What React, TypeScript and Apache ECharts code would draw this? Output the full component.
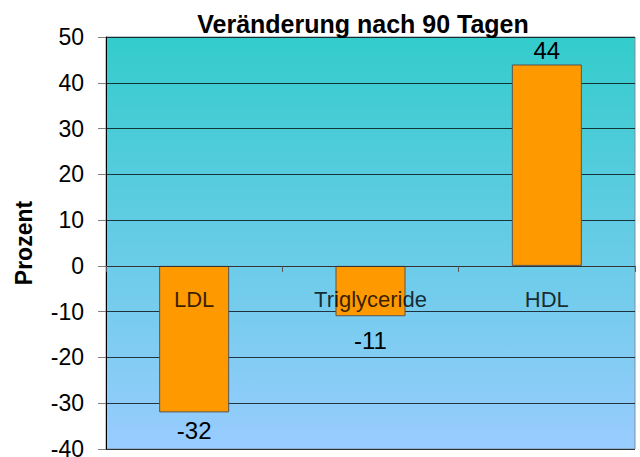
import React, { useEffect, useRef } from "react";
import * as echarts from "echarts";

const categories = ["LDL", "Triglyceride", "HDL"];
const values = [-32, -11, 44];
const yTicks = { min: -40, max: 50, interval: 10 };
const titleText = "Veränderung nach 90 Tagen";
const yAxisTitle = "Prozent";

const labelGaps = [6, 12, 2];

export default function App() {
  const ref = useRef<HTMLDivElement>(null);
  useEffect(() => {
    if (!ref.current) return;
    const chart = echarts.init(ref.current, undefined, { renderer: "svg" });
    const font = "'Liberation Sans', Arial, sans-serif";
    chart.setOption({
      animation: false,
      backgroundColor: "#ffffff",
      title: {
        text: titleText,
        left: 358,
        top: 6,
        textAlign: "center",
        textStyle: { fontFamily: font, fontWeight: "bold", fontSize: 25, color: "#000" },
      },
      grid: {
        left: 106,
        right: 5,
        top: 37,
        bottom: 8,
        outerBoundsMode: "none",
        containLabel: false,
        show: true,
        borderColor: "#7f8f9f",
        borderWidth: 1,
        backgroundColor: new echarts.graphic.LinearGradient(0, 0, 0, 1, [
          { offset: 0, color: "#33CCCC" },
          { offset: 1, color: "#99CCFF" },
        ]),
      },
      xAxis: {
        type: "category",
        data: categories,
        z: 5,
        axisLine: { onZero: true, lineStyle: { color: "#333", width: 1 } },
        axisTick: { show: true, length: 6, lineStyle: { color: "#555" } },
        axisLabel: { show: false },
        splitLine: { show: false },
      },
      yAxis: {
        type: "value",
        min: yTicks.min,
        max: yTicks.max,
        interval: yTicks.interval,
        name: yAxisTitle,
        nameLocation: "middle",
        nameGap: 71,
        nameTextStyle: { fontFamily: font, fontWeight: "bold", fontSize: 23, color: "#000" },
        axisLine: { show: true, lineStyle: { color: "#000" } },
        axisTick: { show: true, length: 8, lineStyle: { color: "#808080" } },
        axisLabel: { fontFamily: font, fontSize: 23, color: "#000", margin: 22 },
        splitLine: { show: true, lineStyle: { color: "rgba(0,0,0,0.75)", width: 1 } },
      },
      series: [
        {
          type: "bar",
          barWidth: 70,
          data: values.map((v, i) => ({
            value: v,
            label: {
              show: true,
              position: v >= 0 ? "top" : "bottom",
              distance: labelGaps[i],
            },
          })),
          itemStyle: { color: "#FF9900", borderColor: "#555", borderWidth: 1 },
          label: { fontFamily: font, fontSize: 24, color: "#000" },
        },
        {
          type: "scatter",
          z: 10,
          symbolSize: 0,
          silent: true,
          data: categories.map((c) => [c, 0]),
          label: {
            show: true,
            position: "bottom",
            distance: 23,
            fontFamily: font,
            fontSize: 22,
            color: "#000",
            formatter: (p: any) => p.name || p.value[0],
          },
        },
      ],
    });
    return () => chart.dispose();
  }, []);
  return (
    <div
      ref={ref}
      style={{ width: 640, height: 457, position: "absolute", left: 0, top: 0 }}
    />
  );
}
